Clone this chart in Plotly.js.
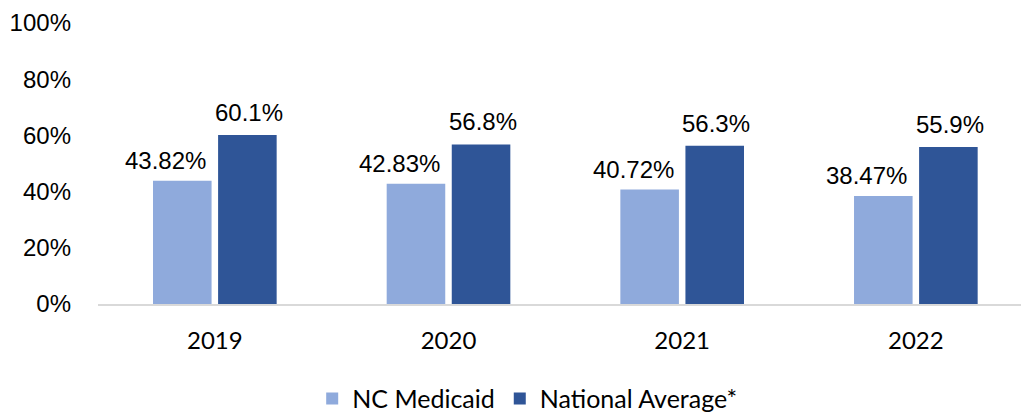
<!DOCTYPE html>
<html>
<head>
<meta charset="utf-8">
<script src="https://cdn.plot.ly/plotly-3.0.1.min.js"></script>
<style>html,body{margin:0;padding:0;background:#fff;}#chart{width:1021px;height:412px;}</style>
</head>
<body>
<div id="chart"></div>
<script>
const years = ["2019", "2020", "2021", "2022"];
const ncMedicaid = [0.4382, 0.4283, 0.4072, 0.3847];
const ncLabels = ["43.82%", "42.83%", "40.72%", "38.47%"];
const nationalAvg = [0.601, 0.568, 0.563, 0.559];
const nationalLabels = ["60.1%", "56.8%", "56.3%", "55.9%"];
const seriesNames = ["NC Medicaid", "National Average*"];
const colors = ["#8FAADC", "#2F5597"];

const annotations = [];
years.forEach((y, i) => {
  annotations.push({x: i, y: ncMedicaid[i], xref: "x", yref: "y", text: ncLabels[i],
    showarrow: false, xanchor: "center", yanchor: "bottom", xshift: -49, yshift: 5,
    font: {family: "Liberation Sans, Arial, sans-serif", size: 24, color: "#000"}});
  annotations.push({x: i, y: nationalAvg[i], xref: "x", yref: "y", text: nationalLabels[i],
    showarrow: false, xanchor: "center", yanchor: "bottom", xshift: 34, yshift: 7,
    font: {family: "Liberation Sans, Arial, sans-serif", size: 24, color: "#000"}});
});

const data = [
  {type: "bar", x: years, y: ncMedicaid, name: seriesNames[0], marker: {color: colors[0]}, hoverinfo: "skip"},
  {type: "bar", x: years, y: nationalAvg, name: seriesNames[1], marker: {color: colors[1]}, hoverinfo: "skip"}
];

const layout = {
  width: 1021, height: 412,
  margin: {l: 98, r: 0, t: 23, b: 107.5, autoexpand: false},
  paper_bgcolor: "#fff", plot_bgcolor: "#fff",
  barmode: "group", bargap: 0.443, bargroupgap: 0.1,
  xaxis: {
    type: "category",
    range: [-0.5, 3.45], showgrid: false, zeroline: false,
    showline: true, linecolor: "#D9D9D9", linewidth: 2,
    ticks: "", ticklabelstandoff: 14, automargin: false,
    tickfont: {family: "Lato, Carlito, Calibri, sans-serif", size: 24, color: "#000"}
  },
  yaxis: {
    range: [0, 1], tickvals: [0, 0.2, 0.4, 0.6, 0.8, 1], tickformat: ".0%",
    showgrid: false, zeroline: false, showline: false, ticks: "", automargin: false,
    ticklabelstandoff: 26,
    tickfont: {family: "Liberation Sans, Arial, sans-serif", size: 24, color: "#000"}
  },
  legend: {
    orientation: "h", x: 0.465, xanchor: "center", y: -0.255, yanchor: "top",
    font: {family: "Lato, Carlito, Calibri, sans-serif", size: 25, color: "#000"},
    itemwidth: 30, traceorder: "normal"
  },
  annotations: annotations,
  showlegend: true
};

Plotly.newPlot("chart", data, layout, {staticPlot: true});
</script>
</body>
</html>
